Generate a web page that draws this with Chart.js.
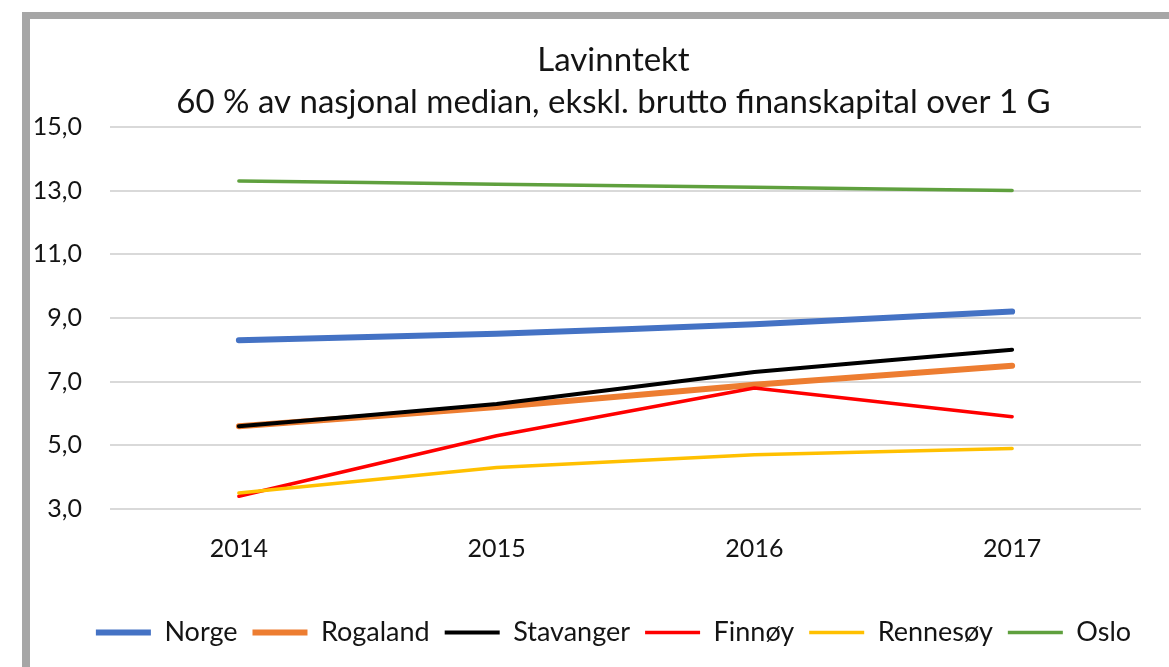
<!DOCTYPE html>
<html>
<head>
<meta charset="utf-8">
<script src="https://cdn.jsdelivr.net/npm/chart.js@4/dist/chart.umd.min.js"></script>
<style>
    html, body { margin: 0; padding: 0; background: #fff; overflow: hidden; width: 1169px; height: 667px; }
    #frame {
        position: absolute; left: 22px; top: 12px; width: 1300px; height: 800px;
        border-top: 7px solid #a6a6a6; border-left: 8px solid #a6a6a6;
    }
    #wrap { position: absolute; left: 30px; top: 19px; width: 1167px; height: 648px; }
</style>
</head>
<body>
<div id="frame"></div>
<div id="wrap"><canvas id="lowIncomeChart"></canvas></div>
<script>
// Values (percent)
const years = ['2014', '2015', '2016', '2017'];
const norge = [8.3, 8.5, 8.8, 9.2];
const rogaland = [5.6, 6.2, 6.9, 7.5];
const stavanger = [5.6, 6.3, 7.3, 8.0];
const finnoy = [3.4, 5.3, 6.8, 5.9];
const rennesoy = [3.5, 4.3, 4.7, 4.9];
const oslo = [13.3, 13.2, 13.1, 13.0];

const titleLines = ['Lavinntekt', '60 % av nasjonal median, ekskl. brutto finanskapital over 1 G'];
const fontFamily = 'Lato, "Liberation Sans", sans-serif';
const textColor = '#141414';

function line(label, data, color, width, tension, order) {
    return {
        label: label,
        data: data,
        borderColor: color,
        backgroundColor: color,
        borderWidth: width,
        borderCapStyle: 'round',
        borderJoinStyle: 'round',
        pointRadius: 0,
        tension: tension,
        fill: false,
        order: order,
        yAxisID: 'y'
    };
}

document.addEventListener('DOMContentLoaded', () => {
    const ctx = document.getElementById('lowIncomeChart').getContext('2d');

    new Chart(ctx, {
        type: 'line',
        data: {
            labels: years,
            datasets: [
                line('Norge', norge, '#4472C4', 6, 0.15, 6),
                line('Rogaland', rogaland, '#ED7D31', 6, 0.15, 5),
                line('Stavanger', stavanger, '#000000', 4, 0.15, 4),
                line('Finnøy', finnoy, '#FF0000', 3.5, 0, 3),
                line('Rennesøy', rennesoy, '#FFC000', 3.5, 0, 2),
                line('Oslo', oslo, '#5FA03E', 3.5, 0.1, 1)
            ]
        },
        options: {
            responsive: true,
            maintainAspectRatio: false,
            animation: false,
            layout: { padding: { left: 0, right: 0, top: 0, bottom: 11 } },
            plugins: {
                title: {
                    display: true,
                    text: titleLines,
                    color: textColor,
                    font: { family: fontFamily, size: 33, weight: 'normal', lineHeight: 1.27 },
                    padding: { top: 20, bottom: 4 }
                },
                legend: {
                    position: 'bottom',
                    labels: {
                        color: textColor,
                        font: { family: fontFamily, size: 27 },
                        usePointStyle: true,
                        pointStyle: 'line',
                        pointStyleWidth: 55,
                        padding: 15,
                        sort: (a, b) => a.datasetIndex - b.datasetIndex
                    }
                },
                tooltip: { enabled: false }
            },
            scales: {
                x: {
                    offset: true,
                    grid: { display: false, drawTicks: false },
                    border: { display: false },
                    ticks: { color: textColor, font: { family: fontFamily, size: 25 }, padding: 25 },
                    afterFit: (axis) => { axis.height = 95; }
                },
                y: {
                    min: 3,
                    max: 15,
                    grid: { color: '#d9d9d9', lineWidth: 2, drawTicks: false },
                    border: { display: false },
                    ticks: {
                        stepSize: 2,
                        color: textColor,
                        font: { family: fontFamily, size: 25 },
                        padding: 28,
                        callback: (v) => v.toFixed(1).replace('.', ',')
                    },
                    afterFit: (axis) => { axis.width = 80; }
                },
                // empty right-hand space, as in the original layout
                spacer: {
                    type: 'linear',
                    position: 'right',
                    grid: { display: false, drawTicks: false },
                    border: { display: false },
                    ticks: { display: false },
                    afterFit: (axis) => { axis.width = 56; }
                }
            }
        }
    });
});
</script>
</body>
</html>
